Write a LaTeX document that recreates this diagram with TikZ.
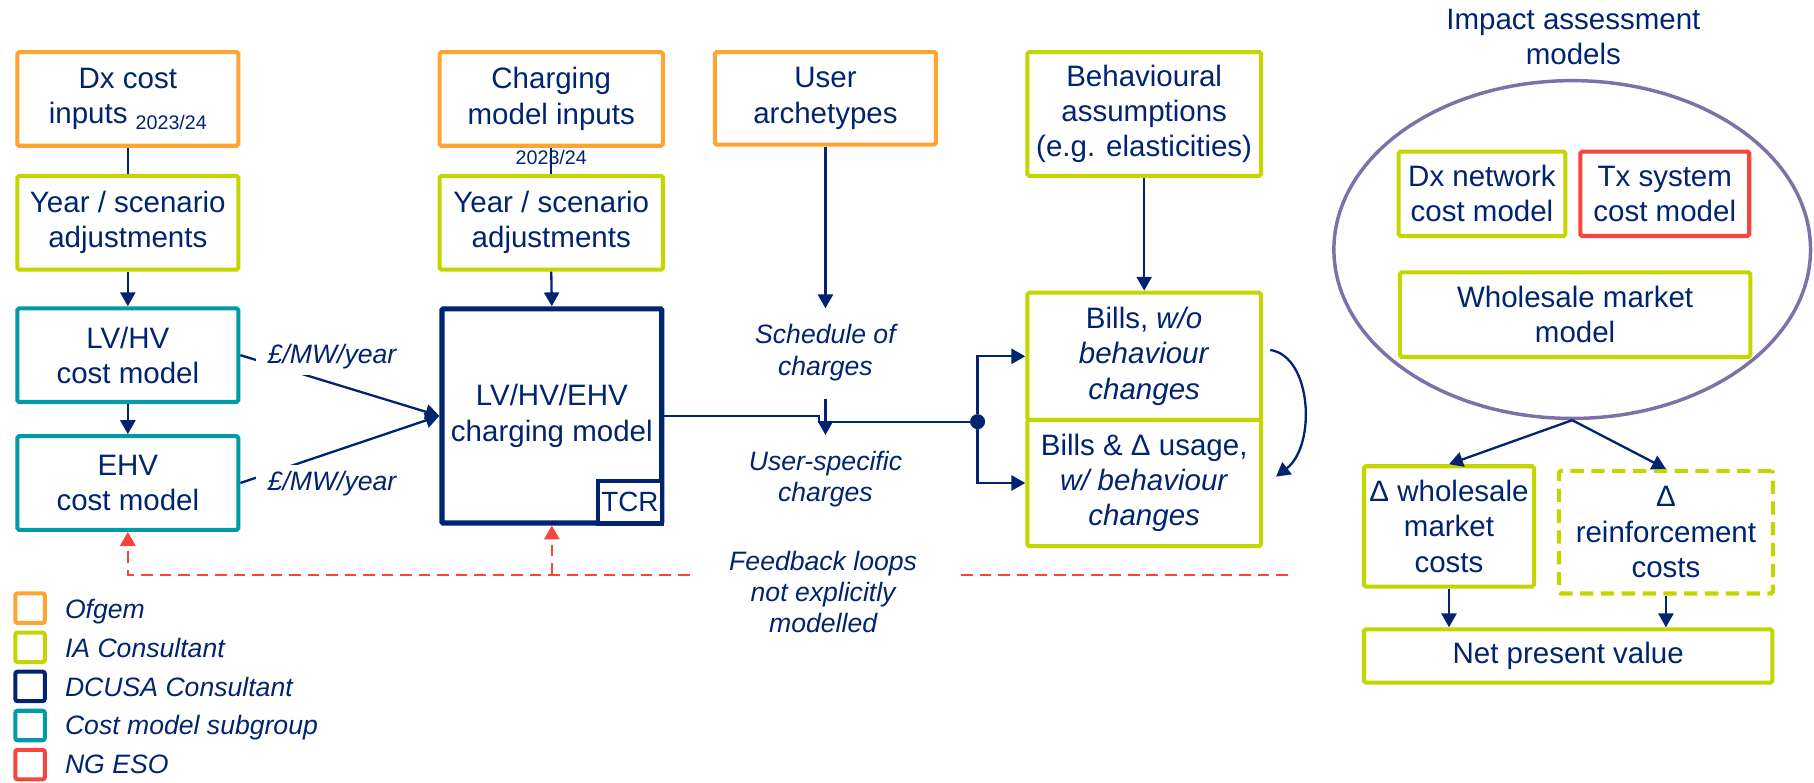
\documentclass[tikz,border=0pt]{standalone}
\usepackage{fontspec}
\setmainfont{Liberation Sans}
\usetikzlibrary{shapes.geometric,arrows.meta,calc}
\definecolor{navy}{RGB}{0,36,112}
\definecolor{cofgem}{RGB}{255,163,51}
\definecolor{clime}{RGB}{196,214,0}
\definecolor{cteal}{RGB}{0,155,166}
\definecolor{cred}{RGB}{247,69,60}
\definecolor{cpurple}{RGB}{128,112,168}
\newcommand\fmain{\fontsize{25.5pt}{30.5pt}\selectfont}
\newcommand\fital{\fontsize{23pt}{27pt}\selectfont\itshape}
\newcommand\fsmall{\fontsize{17pt}{20pt}\selectfont}
\begin{document}
\begin{tikzpicture}[x=1pt,y=-1pt,
  box/.style={draw, line width=3.5pt, rounded corners=1.5pt, align=center, inner sep=0pt, text=navy, font=\fmain, fill=white},
  orbox/.style={box, draw=cofgem},
  iabox/.style={box, draw=clime},
  tlbox/.style={box, draw=cteal},
  dcbox/.style={box, draw=navy},
  esobox/.style={box, draw=cred},
  conn/.style={line width=2pt, draw=navy},
  arr/.style={conn, -{Triangle[width=13pt,length=12pt]}},
  fb/.style={line width=2.3pt, draw=cred, dash pattern=on 10pt off 6pt},
  fbarr/.style={fb, -{Triangle[width=13pt,length=12pt,fill=cred]}},
  lbl/.style={font=\fital, text=navy, align=center, inner sep=2pt},
  lgsq/.style={draw, line width=3.5pt, rounded corners=2pt, minimum size=25.5pt, inner sep=0pt},
  lgtx/.style={font=\fital, text=navy, anchor=base west, inner sep=0pt},
]
\useasboundingbox (0,0) rectangle (1568,676);

% ellipse of impact models
\node[draw=cpurple, line width=3pt, ellipse, minimum width=412pt, minimum height=292pt, inner sep=0pt] (ell) at (1359,215.7) {};
\node[font=\fmain, text=navy, align=center, inner sep=0pt] (ttl) at (1360,31.8) {Impact assessment\\models};

% left column
\node[orbox, minimum width=191pt, minimum height=81pt] (dx) at (110.5,85.5) {Dx cost\\inputs \raisebox{-5pt}{\fsmall 2023/24}};
\node[iabox, minimum width=191pt, minimum height=81pt] (yr1) at (110.5,192.5) {Year / scenario\\adjustments};
\node[tlbox, minimum width=191pt, minimum height=81pt] (lvhv) at (110.5,307) {LV/HV\\cost model};
\node[tlbox, minimum width=191pt, minimum height=81pt] (ehv) at (110.5,417.5) {EHV\\cost model};

% second column
\node[orbox, minimum width=193pt, minimum height=81pt] (chin) at (476.5,85.5) {Charging\\model inputs};
\node[iabox, minimum width=193pt, minimum height=81pt] (yr2) at (476.5,192.5) {Year / scenario\\adjustments};
\node[dcbox, line width=4.5pt, minimum width=190pt, minimum height=185pt, rounded corners=1pt] (chg) at (477,359.5) {LV/HV/EHV\\charging model};
\node[dcbox, line width=3.5pt, minimum width=56pt, minimum height=37pt, rounded corners=0pt, anchor=south east, font=\fontsize{24pt}{28pt}\selectfont] (tcr) at (chg.south east) {TCR};

% third column
\node[orbox, minimum width=191pt, minimum height=80pt] (user) at (713.5,85) {User\\archetypes};

% fourth column
\node[iabox, minimum width=202pt, minimum height=107pt] (beh) at (989,98.5) {Behavioural\\assumptions\\(e.g. elasticities)};
\node[iabox, minimum width=202pt, minimum height=110pt] (bill1) at (989,308) {Bills, \textit{w/o}\\\textit{behaviour}\\\textit{changes}};
\node[iabox, minimum width=202pt, minimum height=109pt] (bill2) at (989,417.5) {Bills \& Δ usage,\\\textit{w/ behaviour}\\\textit{changes}};

% right section
\node[iabox, minimum width=144pt, minimum height=73pt] (dxn) at (1281,167.5) {Dx network\\cost model};
\node[esobox, minimum width=146pt, minimum height=73pt] (txs) at (1439,167.5) {Tx system\\cost model};
\node[iabox, minimum width=303pt, minimum height=73pt] (whm) at (1361.5,272) {Wholesale market\\model};
\node[iabox, minimum width=147pt, minimum height=104pt] (dwh) at (1252.5,455) {Δ wholesale\\market\\costs};
\node[iabox, dash pattern=on 11.5pt off 6.5pt, minimum width=185pt, minimum height=106pt] (drf) at (1440,460) {Δ\\reinforcement\\costs};
\node[iabox, minimum width=353pt, minimum height=46pt] (npv) at (1355.5,567) {Net present value};

% connectors left
\draw[conn] (dx.south) -- (yr1.north);
\draw[arr] (yr1.south) -- (lvhv.north);
\draw[arr] (lvhv.south) -- (ehv.north);
\draw[conn] (chin.south) -- (yr2.north);
\node[font=\fsmall, text=navy, inner sep=0pt] (yrl) at (476.5,136) {2023/24};
\draw[arr] (yr2.south) -- (chg.north);
\draw[arr] (lvhv.east) -- (chg.west);
\draw[arr] (ehv.east) -- (chg.west);
\node[lbl, fill=white, inner xsep=10pt, inner ysep=5pt] (m1) at (287,308) {£/MW/year};
\node[lbl, fill=white, inner xsep=10pt, inner ysep=5pt] (m2) at (287,418) {£/MW/year};

% middle
\coordinate (t1) at (713.5,266.5);
\coordinate (u1) at (713.5,345);
\coordinate (u2) at (713.5,376);
\draw[arr] (user.south) -- (t1);
\node[lbl] (sched) at (713.5,304.7) {Schedule of\\charges};
\node[lbl] (usc) at (713.5,414) {User-specific\\charges};
\node[circle, fill=navy, minimum size=13pt, inner sep=0pt] (dot) at (845,364.5) {};
\coordinate (jog) at (708,359.5);
\draw[conn] (chg.east) -- (jog) |- (dot);
\draw[arr] (u1) -- (u2);
\draw[arr] (dot) |- (bill1.west);
\draw[arr] (dot) |- (bill2.west);
\draw[arr] (beh.south) -- (bill1.north);
\coordinate (cv1) at (1098,302.5);
\coordinate (cv2) at (1103,412);
\draw[arr] (cv1) .. controls (1134,308) and (1138,385) .. (cv2);

% right arrows
\draw[arr] (ell.south) -- (dwh.north);
\draw[arr] (ell.south) -- (drf.north);
\draw[arr] (dwh.south) -- (dwh.south |- npv.north);
\draw[arr] (drf.south) -- (drf.south |- npv.north);

% feedback loops
\coordinate (fbA) at (110.5,497);
\coordinate (fbB) at (477,497);
\coordinate (fbC) at (596,497);
\coordinate (fbD) at (831,497);
\coordinate (fbE) at (1115,497);
\draw[fbarr] (fbC) -- (fbA) -- (ehv.south);
\draw[fbarr] (fbB) -- (chg.south);
\draw[fb] (fbD) -- (fbE);
\node[lbl] (fbt) at (711.5,511.5) {Feedback loops\\not explicitly\\modelled};

% legend
\node[lgsq, draw=cofgem] (lg1) at (26,525.7) {};
\node[lgsq, draw=clime] (lg2) at (26,559.5) {};
\node[lgsq, draw=navy] (lg3) at (26,593.3) {};
\node[lgsq, draw=cteal] (lg4) at (26,627.1) {};
\node[lgsq, draw=cred] (lg5) at (26,660.9) {};
\node[lgtx] (lt1) at (56,535) {Ofgem};
\node[lgtx] (lt2) at (56,568.3) {IA Consultant};
\node[lgtx] (lt3) at (56,601.7) {DCUSA Consultant};
\node[lgtx] (lt4) at (56,635) {Cost model subgroup};
\node[lgtx] (lt5) at (56,668.4) {NG ESO};
\end{tikzpicture}
\end{document}
